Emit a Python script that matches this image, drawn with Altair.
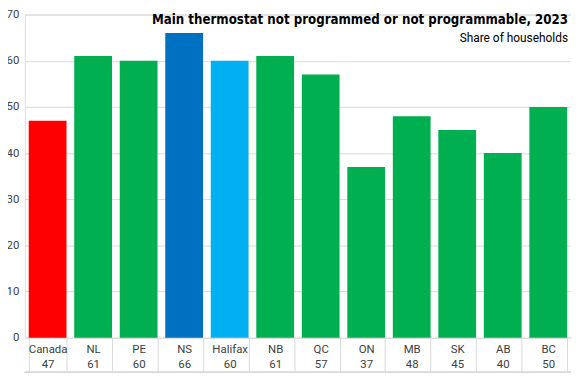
import altair as alt
import pandas as pd

categories = ["Canada", "NL", "PE", "NS", "Halifax", "NB", "QC", "ON", "MB", "SK", "AB", "BC"]
values = [47, 61, 60, 66, 60, 61, 57, 37, 48, 45, 40, 50]
colors = ["#FF0000", "#00B050", "#00B050", "#0070C0", "#00B0F0", "#00B050",
          "#00B050", "#00B050", "#00B050", "#00B050", "#00B050", "#00B050"]
y_ticks = [0, 10, 20, 30, 40, 50, 60, 70]
title_text = "Main thermostat not programmed or not programmable, 2023"
subtitle_text = "Share of households"

df = pd.DataFrame({
    "cat": categories,
    "value": values,
    "color": colors,
    "label": [f"{c}|{v}" for c, v in zip(categories, values)],
})

W, H = 551, 326
TABLE = 35
TOP = 5
FONT = "DejaVu Sans Condensed, Liberation Sans Narrow, Roboto, sans-serif"
LFONT = "Roboto, DejaVu Sans Condensed, sans-serif"

base = alt.Chart(df)

bars = base.mark_bar().encode(
    x=alt.X("label:N", sort=None,
            scale=alt.Scale(paddingInner=0.17, paddingOuter=0.085),
            axis=alt.Axis(title=None, labelExpr="split(datum.label, '|')",
                          labelAngle=0, labelBaseline="top", labelPadding=-TABLE + 6,
                          labelLineHeight=15, labelFontSize=11.5, labelColor="#404040",
                          labelFont=LFONT,
                          tickBand="extent", tickSize=TABLE, tickColor="#D9D9D9",
                          domain=False, grid=False)),
    y=alt.Y("value:Q", scale=alt.Scale(domain=[0, 70], nice=False),
            axis=alt.Axis(title=None, values=y_ticks, grid=True, gridColor="#D9D9D9",
                          domain=False, ticks=False, labelPadding=6, labelFontSize=11.5,
                          labelColor="#404040", labelFont=LFONT)),
    color=alt.Color("color:N", scale=None),
)

bottom_rule = base.mark_rule(color="#D9D9D9").encode(
    x=alt.value(0), x2=alt.value(W), y=alt.value(H + TABLE)
)

title = alt.Chart(pd.DataFrame({"t": [title_text]})).mark_text(
    align="right", baseline="alphabetic", fontSize=13.3, fontWeight="bold",
    font=FONT, color="#000000"
).encode(x=alt.value(W - 3), y=alt.value(10), text="t:N")

subtitle = alt.Chart(pd.DataFrame({"t": [subtitle_text]})).mark_text(
    align="right", baseline="alphabetic", fontSize=12,
    font=LFONT, color="#000000"
).encode(x=alt.value(W - 3), y=alt.value(28), text="t:N")

chart = alt.layer(bars, bottom_rule, title, subtitle).properties(
    width=W, height=H,
    autosize=alt.AutoSizeParams(type="none"),
    padding={"left": 17, "top": TOP, "right": 0, "bottom": TABLE + 2},
).configure_view(stroke=None).configure(background="white")

chart.save("out.html", embed_options={"renderer": "svg", "actions": False})
